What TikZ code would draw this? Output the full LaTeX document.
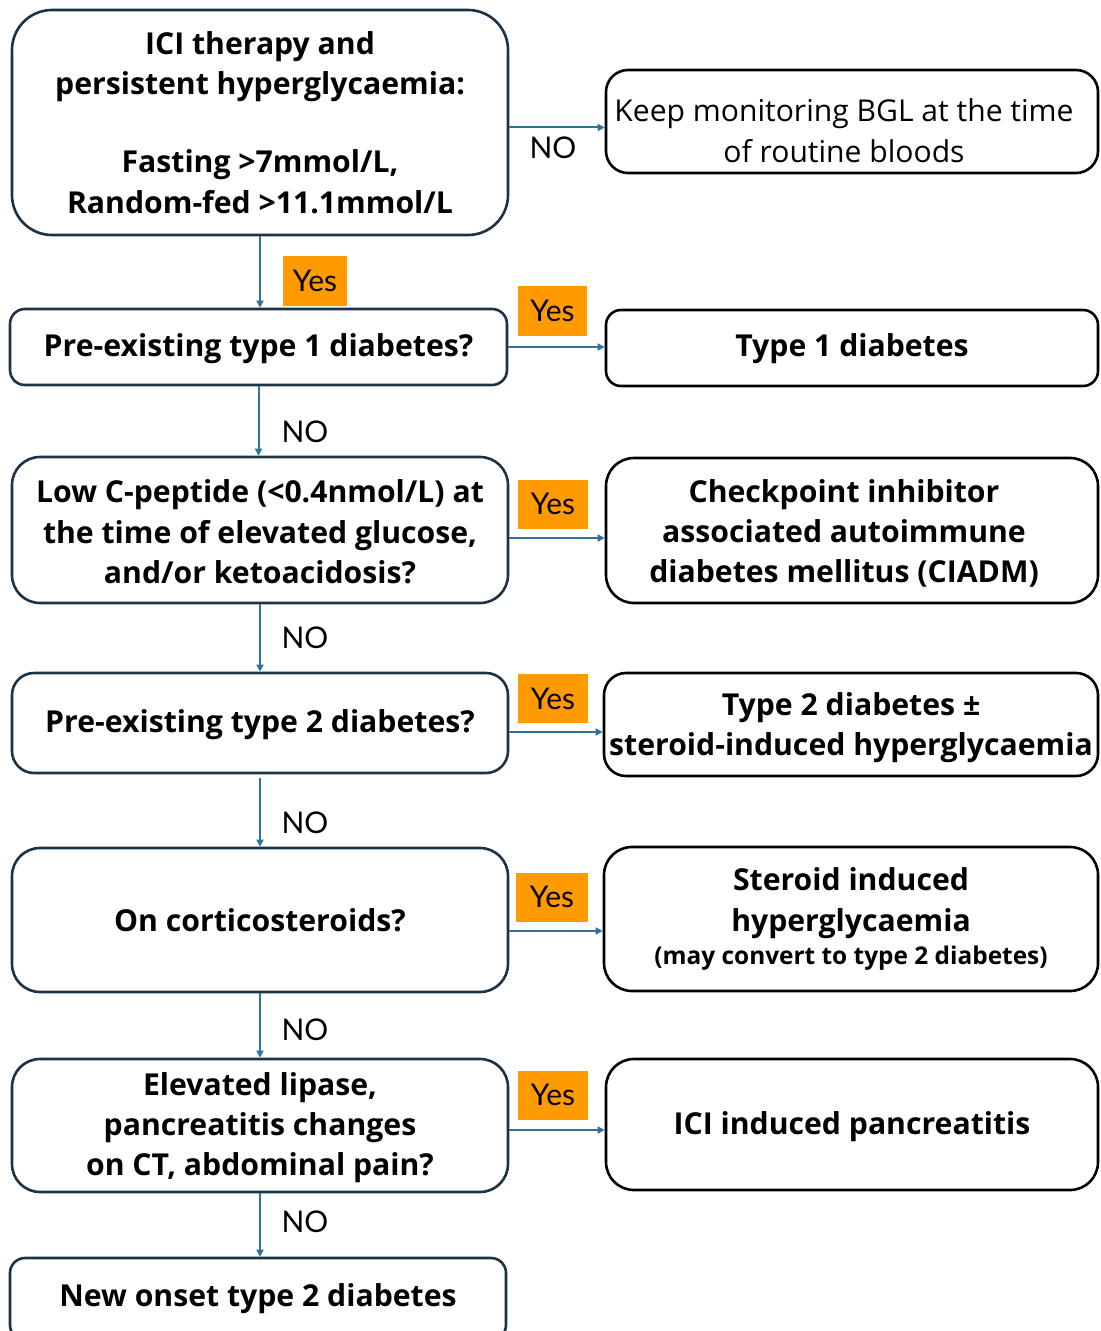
\documentclass[tikz,border=0pt]{standalone}
\usepackage{fontspec}
\setmainfont{Open Sans}
\newfontfamily\tagfont{Lato}
\usetikzlibrary{arrows.meta}
\definecolor{navy}{HTML}{1C3246}
\definecolor{flow}{HTML}{2F739A}
\definecolor{tag}{HTML}{FF9A00}
% taller first line: pushes a centred text block down by #1
\newcommand{\dropby}[1]{\rule{0pt}{\dimexpr 23bp+2\dimexpr #1\relax\relax}}
% invisible tail on a line: moves a centred line left by half of 16bp
\newcommand{\tail}{\rule{16bp}{0pt}}

\begin{document}
\begin{tikzpicture}[x=1bp,y=-1bp,
  box/.style={draw, line width=2.6bp, rounded corners=#1, align=center,
    inner sep=0pt, font=\fontsize{30.3}{40.5}\selectfont\bfseries},
  qbox/.style={box=#1, draw=navy},
  abox/.style={box=#1, draw=black},
  flowarrow/.style={draw=flow, line width=2bp,
    -{Triangle[length=7bp,width=7bp]}},
  yestag/.style={fill=tag, inner sep=0pt, minimum height=49bp,
    font=\tagfont\fontsize{30}{30}\selectfont},
  notag/.style={inner sep=0pt, font=\tagfont\fontsize{30}{30}\selectfont},
]
\useasboundingbox (0,0) rectangle (1100,1331);

% decision column
\node[qbox=40bp, minimum width=496bp, minimum height=225bp] (ici) at (260,122.5)
  {ICI therapy and\\persistent hyperglycaemia:\\[38bp]Fasting >7mmol/L,\\Random-fed >11.1mmol/L};
\node[qbox=15bp, minimum width=497bp, minimum height=76bp] (preone) at (258.5,347)
  {\dropby{2bp}Pre-existing type 1 diabetes?};
\node[qbox=28bp, minimum width=496bp, minimum height=146bp] (cpep) at (260,530)
  {\dropby{2bp}Low C-peptide (<0.4nmol/L) at\\the time of elevated glucose,\\and/or ketoacidosis?};
\node[qbox=22bp, minimum width=496bp, minimum height=100bp] (pretwo) at (260,723)
  {\dropby{2bp}Pre-existing type 2 diabetes?};
\node[qbox=28bp, minimum width=496bp, minimum height=144bp] (cort) at (260,920)
  {On corticosteroids?};
\node[qbox=28bp, minimum width=496bp, minimum height=133bp] (lipase) at (260,1125.5)
  {\dropby{2bp}Elevated lipase,\\pancreatitis changes\\on CT, abdominal pain?};
\node[qbox=15bp, minimum width=496bp, minimum height=82bp] (newtwo) at (258,1299)
  {New onset type 2 diabetes};

% outcome column
\node[abox=22bp, minimum width=492bp, minimum height=103bp,
  font=\fontsize{30.2}{40.5}\selectfont] (keep) at (852,121.5)
  {\dropby{9bp}Keep monitoring BGL at the time\tail\\of routine bloods\tail};
\node[abox=15bp, minimum width=492bp, minimum height=76bp] (typeone) at (852,348)
  {\dropby{1bp}Type 1 diabetes};
\node[abox=28bp, minimum width=492bp, minimum height=145bp] (ciadm) at (852,530.5)
  {\dropby{3bp}Checkpoint inhibitor\tail\\associated autoimmune\tail\\diabetes mellitus (CIADM)\tail};
\node[abox=22bp, minimum width=494bp, minimum height=103bp] (typetwo) at (851,724.5)
  {\dropby{3bp}Type 2 diabetes ±\\steroid-induced hyperglycaemia};
\node[abox=28bp, minimum width=494bp, minimum height=144bp] (steroid) at (851,919)
  {Steroid induced\\hyperglycaemia\\[-7bp]{\fontsize{24.5}{28}\selectfont(may convert to type 2 diabetes)}};
\node[abox=28bp, minimum width=492bp, minimum height=131bp] (pancr) at (852,1124.5)
  {\dropby{2bp}ICI induced pancreatitis};

% vertical flow
\draw[flowarrow] (ici.south) -- (ici.south |- preone.north);
\draw[flowarrow] (preone.south) -- (preone.south |- cpep.north);
\draw[flowarrow] (cpep.south) -- (cpep.south |- pretwo.north);
\draw[flowarrow] ([yshift=-4bp]pretwo.south) -- (pretwo.south |- cort.north);
\draw[flowarrow] (cort.south) -- (cort.south |- lipase.north);
\draw[flowarrow] (lipase.south) -- (lipase.south |- newtwo.north);

% horizontal flow
\draw[flowarrow] ([yshift=-5bp]ici.east) -- ([yshift=-5bp]ici.east -| keep.west);
\draw[flowarrow] (preone.east) -- (preone.east -| typeone.west);
\draw[flowarrow] ([yshift=-8bp]cpep.east) -- ([yshift=-8bp]cpep.east -| ciadm.west);
\draw[flowarrow] ([yshift=-9bp]pretwo.east) -- ([yshift=-9bp]pretwo.east -| typetwo.west);
\draw[flowarrow] ([yshift=-11bp]cort.east) -- ([yshift=-11bp]cort.east -| steroid.west);
\draw[flowarrow] ([yshift=-4.5bp]lipase.east) -- ([yshift=-4.5bp]lipase.east -| pancr.west);

% answer labels
\node[yestag, minimum width=64bp] (y0) at (315,281) {Yes};
\node[yestag, minimum width=69bp] (y1) at (552.5,311) {Yes};
\node[yestag, minimum width=70bp] (y2) at (553,504) {Yes};
\node[yestag, minimum width=70bp] (y3) at (553,698.5) {Yes};
\node[yestag, minimum width=72bp] (y4) at (552,897) {Yes};
\node[yestag, minimum width=70bp] (y5) at (553,1095) {Yes};

\node[notag] (n0) at (553,148) {NO};
\node[notag] (n1) at (305,432) {NO};
\node[notag] (n2) at (305,638) {NO};
\node[notag] (n3) at (305,823) {NO};
\node[notag] (n4) at (305,1030) {NO};
\node[notag] (n5) at (305,1222) {NO};
\end{tikzpicture}
\end{document}
